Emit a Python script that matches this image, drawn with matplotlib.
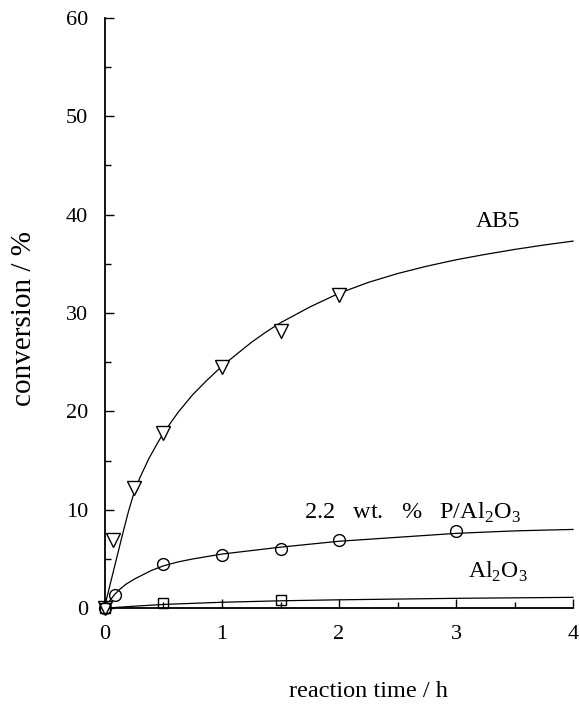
import numpy as np
import matplotlib
matplotlib.use("Agg")
import matplotlib.pyplot as plt
from matplotlib.ticker import MultipleLocator

plt.rcParams['font.family'] = ['Liberation Serif', 'DejaVu Serif']
plt.rcParams['mathtext.fontset'] = 'custom'
plt.rcParams['mathtext.rm'] = 'Liberation Serif'

# 测量点: 反应时间 / h, 转化率 / %
ab5_t    = [0, 0.07, 0.25, 0.5, 1.0, 1.5, 2.0]
ab5_conv = [0, 6.9, 12.2, 17.8, 24.5, 28.2, 31.8]

p_t    = [0, 0.083, 0.5, 1.0, 1.5, 2.0, 3.0]
p_conv = [0, 1.3, 4.5, 5.4, 6.0, 6.9, 7.8]

al_t    = [0, 0.5, 1.5]
al_conv = [0, 0.5, 0.8]

# 拟合曲线上的点
ab5_fit_t = [0, 0.05, 0.1, 0.15, 0.2, 0.25, 0.3, 0.375, 0.45, 0.5, 0.625, 0.75, 0.875,
             1.0, 1.125, 1.25, 1.375, 1.5, 1.75, 2.0, 2.25, 2.5, 2.75, 3.0, 3.25, 3.5, 3.75, 4.0]
ab5_fit_y = [0.3, 2.7, 5.1, 7.5, 9.8, 11.8, 13.3, 15.2, 16.8, 17.8, 19.9, 21.7, 23.2,
             24.6, 25.8, 27.0, 28.05, 29.0, 30.6, 32.0, 33.1, 34.0, 34.75, 35.4, 35.95, 36.45, 36.9, 37.3]

p_fit_t = [0, 0.05, 0.083, 0.125, 0.175, 0.25, 0.325, 0.4, 0.5, 0.625, 0.75, 0.875,
           1.0, 1.25, 1.5, 1.75, 2.0, 2.25, 2.5, 2.75, 3.0, 3.25, 3.5, 3.75, 4.0]
p_fit_y = [0.2, 0.9, 1.4, 1.9, 2.4, 2.95, 3.4, 3.85, 4.3, 4.7, 5.0, 5.25,
           5.5, 5.85, 6.2, 6.5, 6.8, 7.0, 7.2, 7.4, 7.6, 7.73, 7.85, 7.93, 8.0]

al_fit_t = [0, 0.25, 0.5, 1.0, 1.5, 2.0, 3.0, 4.0]
al_fit_y = [0, 0.2, 0.38, 0.6, 0.75, 0.85, 1.0, 1.1]


def main():
    fig = plt.figure(figsize=(5.8, 7.08), dpi=100)
    ax = fig.add_axes([0.181, 0.141, 0.807, 0.834])

    # 1,拟合曲线
    for t, y in [(ab5_fit_t, ab5_fit_y), (p_fit_t, p_fit_y), (al_fit_t, al_fit_y)]:
        ax.plot(t, y, color="black", lw=0.9, clip_on=False, zorder=2)

    # 2,测量点
    ax.plot(ab5_t, ab5_conv, "v", ms=9.5, mfc="white", mec="black", mew=1.0, clip_on=False, zorder=3)
    ax.plot(p_t, p_conv, "o", ms=8.5, mfc="none", mec="black", mew=1.0, clip_on=False, zorder=3)
    ax.plot(al_t, al_conv, "s", ms=7.5, mfc="none", mec="black", mew=1.0, clip_on=False, zorder=3)

    # 3,标注
    ax.text(3.36, 39.3, "AB5", fontsize=17, ha="center", va="center")
    ax.text(2.63, 9.7, r"2.2   wt.   %   P/Al$_2$O$_3$", fontsize=17.5, ha="center", va="center")
    ax.text(3.36, 3.7, r"Al$_2$O$_3$", fontsize=17, ha="center", va="center")

    # 4,坐标轴
    ax.set_xlim(0, 4)
    ax.set_ylim(0, 60)
    for side in ["top", "right"]:
        ax.spines[side].set_visible(False)
    for side in ["left", "bottom"]:
        ax.spines[side].set_linewidth(1.3)

    ax.xaxis.set_major_locator(MultipleLocator(1))
    ax.xaxis.set_minor_locator(MultipleLocator(0.5))
    ax.yaxis.set_major_locator(MultipleLocator(10))
    ax.yaxis.set_minor_locator(MultipleLocator(5))
    ax.tick_params(which="major", direction="in", length=6.5, width=1.0, labelsize=16)
    ax.tick_params(which="minor", direction="in", length=4.5, width=1.0)
    ax.tick_params(axis="x", pad=12)
    ax.tick_params(axis="y", pad=12)

    ax.set_xlabel("reaction time / h", fontsize=17.5)
    ax.set_ylabel("conversion / %", fontsize=21)
    ax.xaxis.set_label_coords(0.562, -0.124)
    ax.yaxis.set_label_coords(-0.145, 0.49)

    plt.savefig("out.png", dpi=100)
    plt.close()


main()
